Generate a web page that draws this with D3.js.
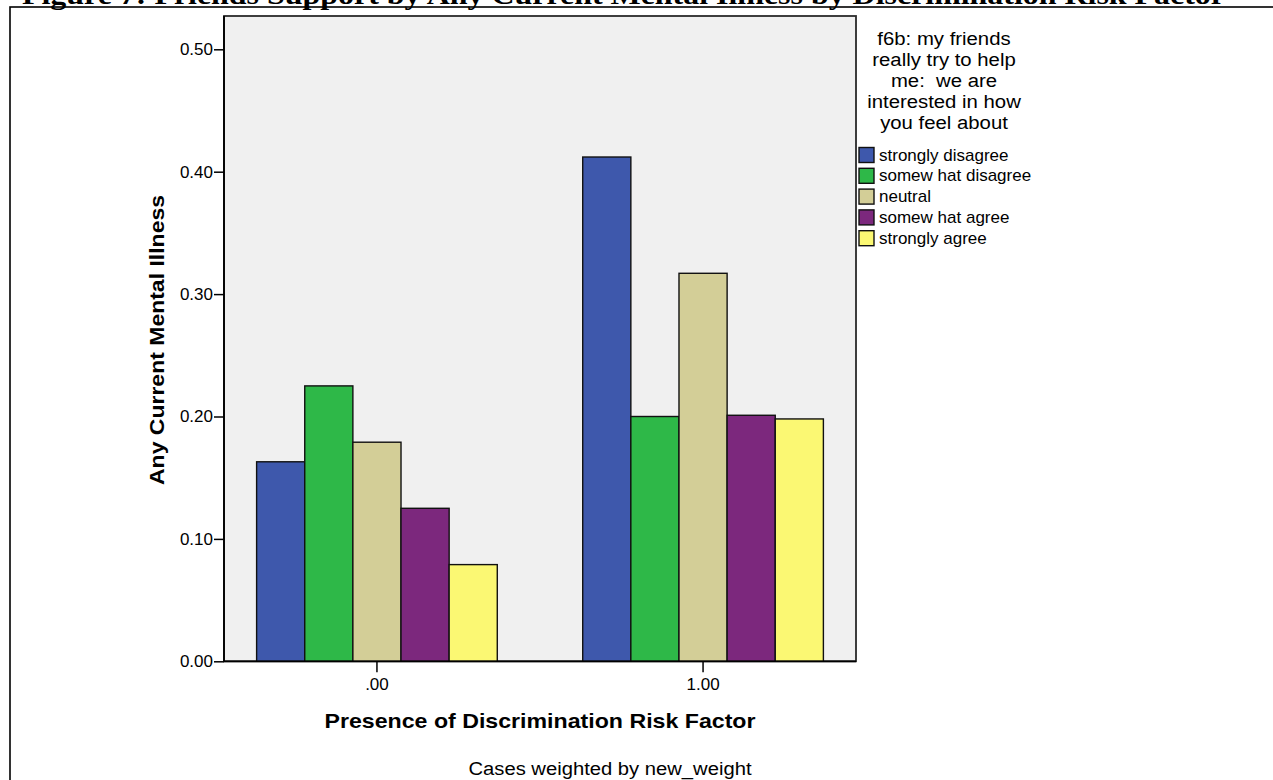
<!DOCTYPE html>
<html>
<head>
<meta charset="utf-8">
<script src="https://cdn.jsdelivr.net/npm/d3@7"></script>
<style>
  html, body { margin: 0; padding: 0; background: #fff; overflow: hidden; }
  svg { display: block; }
</style>
</head>
<body>
<svg id="chart" width="1273" height="780"></svg>
<script>
const categories = [".00", "1.00"];
const seriesNames = ["strongly disagree", "somew hat disagree", "neutral", "somew hat agree", "strongly agree"];
const seriesColors = ["#3E58AC", "#2EB848", "#D3CE97", "#7C287D", "#FBF873"];
const values = [
  [0.163, 0.225, 0.179, 0.125, 0.079],
  [0.412, 0.200, 0.317, 0.201, 0.198]
];
const yTicks = [0.00, 0.10, 0.20, 0.30, 0.40, 0.50];
const legendTitle = ["f6b: my friends", "really try to help", "me:  we are", "interested in how", "you feel about"];
const titleText = "Figure 7: Friends Support by Any Current Mental Illness by Discrimination Risk Factor";
const xTitle = "Presence of Discrimination Risk Factor";
const yTitle = "Any Current Mental Illness";
const footnote = "Cases weighted by new_weight";

const FONT = "Liberation Sans, Arial, sans-serif";
const svg = d3.select("#chart");
const plot = { left: 224, right: 856, top: 16, bottom: 661.3 };

// frame
svg.append("rect").attr("x", 10).attr("y", 7).attr("width", 1300).attr("height", 800)
  .attr("fill", "none").attr("stroke", "#000").attr("stroke-width", 1.6);

// title (cut off at top, as in the reference)
svg.append("text").attr("x", 22).attr("y", 4)
  .attr("font-family", "Liberation Serif, Times New Roman, serif")
  .attr("font-weight", "bold").attr("font-size", 27)
  .attr("textLength", 1203).attr("lengthAdjust", "spacingAndGlyphs")
  .text(titleText);

const y = d3.scaleLinear().domain([0, 0.5]).range([plot.bottom, 49.3]);
const x0 = d3.scaleBand().domain(categories).range([plot.left, plot.right])
  .paddingInner(0.262).paddingOuter(0.1);
const x1 = d3.scaleBand().domain(d3.range(seriesNames.length)).range([0, x0.bandwidth()]);

// plot background
svg.append("rect").attr("x", plot.left).attr("y", plot.top)
  .attr("width", plot.right - plot.left).attr("height", plot.bottom - plot.top)
  .attr("fill", "#F0F0F0").attr("stroke", "#2a2a2a").attr("stroke-width", 1.8);

// bars
const groups = svg.append("g").selectAll("g").data(values).join("g")
  .attr("transform", (d, i) => `translate(${x0(categories[i])},0)`);
groups.selectAll("rect").data(d => d).join("rect")
  .attr("x", (d, j) => x1(j))
  .attr("y", d => y(d))
  .attr("width", x1.bandwidth())
  .attr("height", d => y(0) - y(d))
  .attr("fill", (d, j) => seriesColors[j])
  .attr("stroke", "#111").attr("stroke-width", 1.4);

// y axis
const yAxis = svg.append("g").attr("transform", `translate(${plot.left},0)`)
  .call(d3.axisLeft(y).tickValues(yTicks).tickFormat(d3.format(".2f")).tickSize(10).tickPadding(1).tickSizeOuter(0));
yAxis.select(".domain").remove();
yAxis.selectAll("line").attr("stroke", "#000").attr("stroke-width", 1.5);
yAxis.selectAll("text").attr("font-family", FONT).attr("font-size", 17).attr("fill", "#000");

// x axis
const xAxis = svg.append("g").attr("transform", `translate(0,${plot.bottom})`)
  .call(d3.axisBottom(x0).tickSize(11).tickPadding(6).tickSizeOuter(0));
xAxis.select(".domain").remove();
xAxis.selectAll("line").attr("stroke", "#000").attr("stroke-width", 1.5);
xAxis.selectAll("text").attr("font-family", FONT).attr("font-size", 17).attr("fill", "#000");

// axis lines
svg.append("line").attr("x1", plot.left).attr("x2", plot.left).attr("y1", plot.top).attr("y2", plot.bottom)
  .attr("stroke", "#000").attr("stroke-width", 1.8);
svg.append("line").attr("x1", plot.left).attr("x2", plot.right).attr("y1", plot.bottom).attr("y2", plot.bottom)
  .attr("stroke", "#000").attr("stroke-width", 1.8);

// axis titles
svg.append("text").attr("x", 540).attr("y", 728).attr("text-anchor", "middle")
  .attr("font-family", FONT).attr("font-weight", "bold").attr("font-size", 21)
  .attr("textLength", 431).attr("lengthAdjust", "spacingAndGlyphs")
  .text(xTitle);
svg.append("text").attr("transform", "translate(164,340) rotate(-90)").attr("text-anchor", "middle")
  .attr("font-family", FONT).attr("font-weight", "bold").attr("font-size", 21)
  .attr("textLength", 290).attr("lengthAdjust", "spacingAndGlyphs")
  .text(yTitle);
svg.append("text").attr("x", 610).attr("y", 775).attr("text-anchor", "middle")
  .attr("font-family", FONT).attr("font-size", 18)
  .attr("textLength", 283).attr("lengthAdjust", "spacingAndGlyphs")
  .text(footnote);

// legend
const lg = svg.append("g");
lg.append("g").attr("transform", "translate(944,0) scale(1.13,1)")
  .selectAll("text").data(legendTitle).join("text")
  .attr("x", 0).attr("y", (d, i) => 45.5 + i * 21).attr("text-anchor", "middle")
  .attr("font-family", FONT).attr("font-size", 18)
  .style("white-space", "pre")
  .text(d => d);
const items = lg.selectAll("g.item").data(seriesNames).join("g").attr("class", "item")
  .attr("transform", (d, i) => `translate(859,${147.5 + i * 20.8})`);
items.append("rect").attr("width", 15).attr("height", 15)
  .attr("fill", (d, i) => seriesColors[i]).attr("stroke", "#111").attr("stroke-width", 1.4);
items.append("text").attr("x", 20).attr("y", 13)
  .attr("font-family", FONT).attr("font-size", 17)
  .text(d => d);
</script>
</body>
</html>
